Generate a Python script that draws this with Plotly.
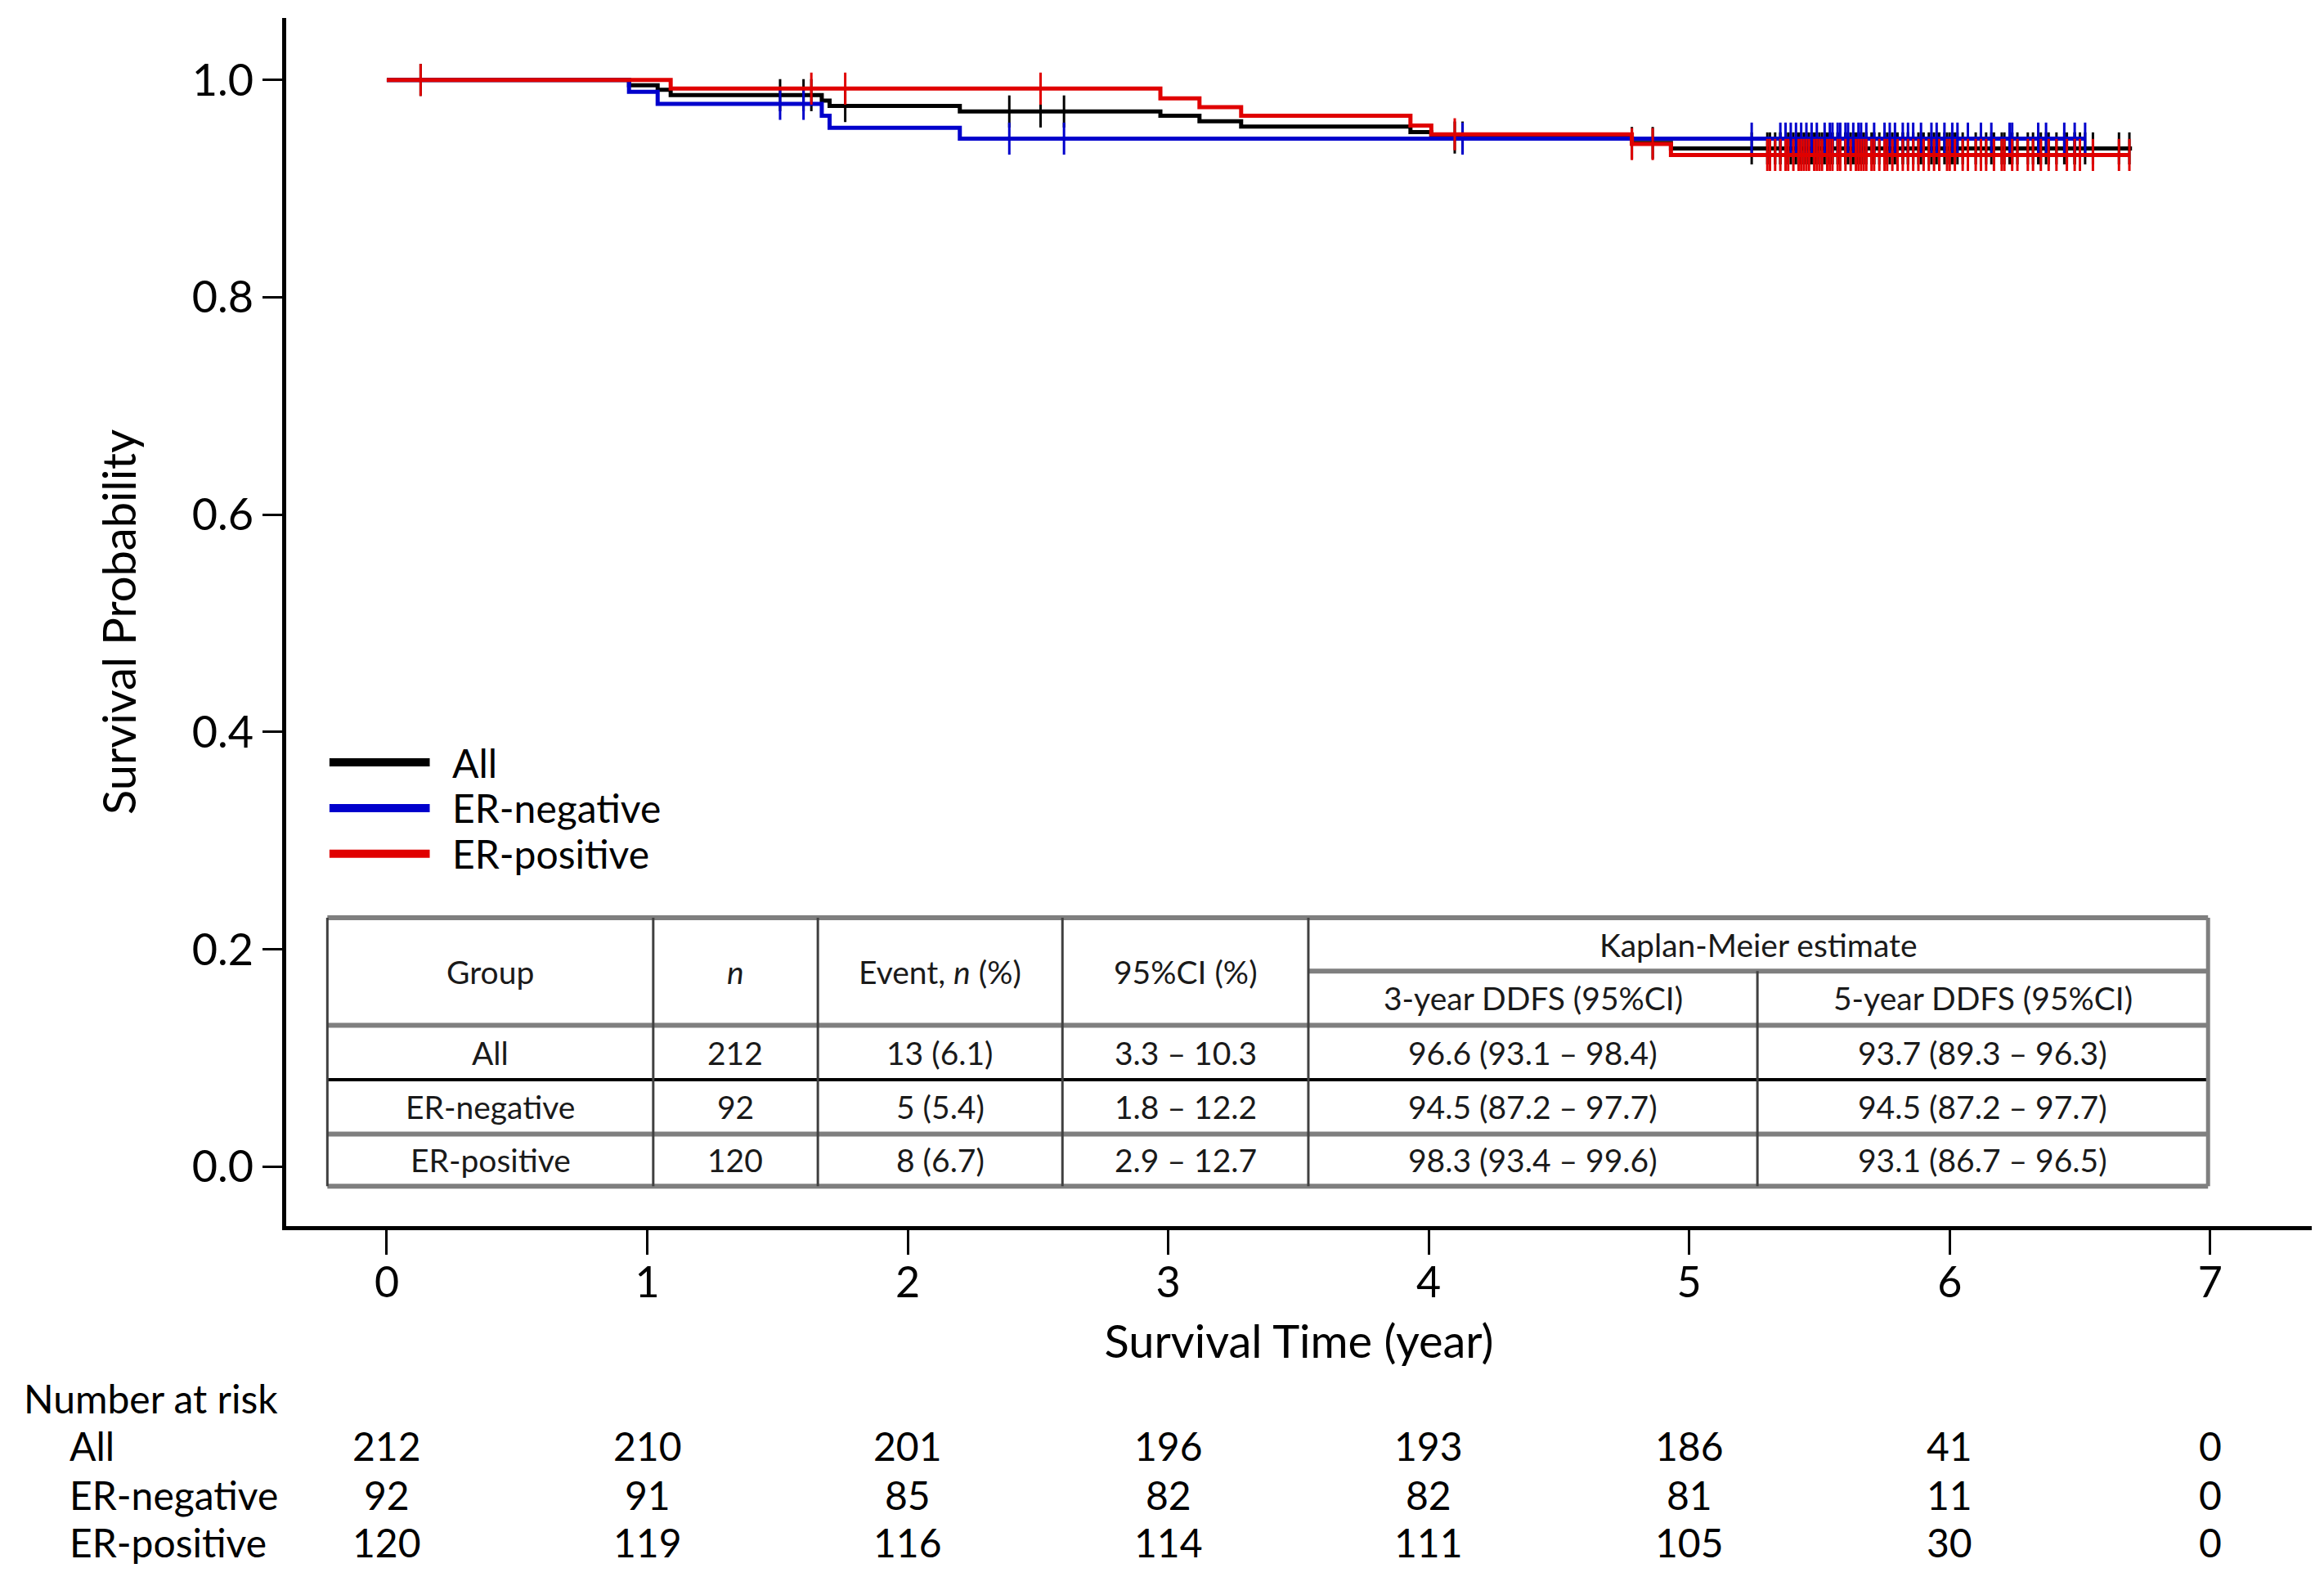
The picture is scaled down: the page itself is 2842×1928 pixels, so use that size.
import numpy as np
import plotly.graph_objects as go

# Kaplan-Meier steps (event times in years, survival after each step)
all_time = [0, 0.93, 1.04, 1.09, 1.67, 1.70, 2.20, 2.97, 3.12, 3.28, 3.93, 4.01, 4.78, 4.93]
all_surv = [1.0, 0.995, 0.991, 0.986, 0.981, 0.976, 0.971, 0.967, 0.962, 0.957, 0.952, 0.947, 0.942, 0.937]
all_end = 6.70

neg_time = [0, 0.93, 1.04, 1.67, 1.70, 2.20]
neg_surv = [1.0, 0.989, 0.978, 0.967, 0.956, 0.946]
neg_end = 6.52

pos_time = [0, 1.09, 2.97, 3.12, 3.28, 3.93, 4.01, 4.78, 4.93]
pos_surv = [1.0, 0.992, 0.983, 0.975, 0.967, 0.958, 0.950, 0.941, 0.931]
pos_end = 6.69

# censoring times (+ marks)
neg_cens = [1.51, 1.60, 2.39, 2.60, 4.13, 5.24, 5.35, 5.37, 5.39, 5.41, 5.43, 5.45, 5.47,
            5.49, 5.52, 5.54, 5.55, 5.57, 5.58, 5.60, 5.61, 5.63, 5.65, 5.66, 5.68, 5.71,
            5.75, 5.77, 5.79, 5.82, 5.84, 5.86, 5.89, 5.93, 5.95, 5.98, 6.01, 6.03, 6.07,
            6.12, 6.16, 6.23, 6.24, 6.34, 6.37, 6.44, 6.48, 6.52]
pos_cens = [0.13, 1.63, 1.76, 2.51, 4.10, 4.78, 4.86, 5.30, 5.31, 5.33, 5.35, 5.37, 5.38,
            5.40, 5.42, 5.43, 5.44, 5.45, 5.46, 5.48, 5.49, 5.50, 5.51, 5.53, 5.54, 5.55,
            5.57, 5.58, 5.60, 5.62, 5.64, 5.65, 5.66, 5.67, 5.68, 5.70, 5.71, 5.73, 5.75,
            5.76, 5.78, 5.80, 5.82, 5.84, 5.86, 5.88, 5.90, 5.92, 5.94, 5.96, 5.99, 6.00,
            6.02, 6.05, 6.07, 6.10, 6.12, 6.14, 6.17, 6.20, 6.21, 6.24, 6.26, 6.30, 6.32,
            6.35, 6.38, 6.41, 6.45, 6.48, 6.50, 6.55, 6.65, 6.69]
all_cens = sorted(neg_cens + pos_cens)

# number at risk
risk_times = [0, 1, 2, 3, 4, 5, 6, 7]
risk_all = [212, 210, 201, 196, 193, 186, 41, 0]
risk_neg = [92, 91, 85, 82, 82, 81, 11, 0]
risk_pos = [120, 119, 116, 114, 111, 105, 30, 0]

# summary table
groups = ["All", "ER-negative", "ER-positive"]
n_total = ["212", "92", "120"]
events = ["13 (6.1)", "5 (5.4)", "8 (6.7)"]
event_ci = ["3.3 – 10.3", "1.8 – 12.2", "2.9 – 12.7"]
ddfs3 = ["96.6 (93.1 – 98.4)", "94.5 (87.2 – 97.7)", "98.3 (93.4 – 99.6)"]
ddfs5 = ["93.7 (89.3 – 96.3)", "94.5 (87.2 – 97.7)", "93.1 (86.7 – 96.5)"]
head_cols = ["Group", "<i>n</i>", "Event, <i>n</i> (%)", "95%CI (%)"]
km_head = "Kaplan-Meier estimate"
km_sub = ["3-year DDFS (95%CI)", "5-year DDFS (95%CI)"]

FONT = "Lato"
BLACK, BLUE, RED = "#000000", "#0000cc", "#e00000"


def surv_at(times, surv, t):
    idx = np.searchsorted(times, t, side="right") - 1
    return np.array(surv)[idx]


fig = go.Figure()

series = [
    ("All", all_time, all_surv, all_end, all_cens, BLACK),
    ("ER-negative", neg_time, neg_surv, neg_end, neg_cens, BLUE),
    ("ER-positive", pos_time, pos_surv, pos_end, pos_cens, RED),
]
for name, t, s, end, cens, col in series:
    fig.add_trace(go.Scatter(x=t + [end], y=s + [s[-1]], mode="lines",
                             line=dict(color=col, width=5, shape="hv"),
                             name=name, showlegend=False))
    fig.add_trace(go.Scatter(x=cens, y=surv_at(t, s, cens), mode="markers",
                             marker=dict(symbol="line-ns", size=28,
                                         line=dict(color=col, width=3)),
                             showlegend=False, hoverinfo="skip"))

# legend drawn by hand
leg_y = [0.372, 0.330, 0.288]
for (name, _, _, _, _, col), yy in zip(series, leg_y):
    fig.add_shape(type="line", xref="x", yref="y", x0=-0.22, x1=0.165, y0=yy, y1=yy,
                  line=dict(color=col, width=10))
    fig.add_annotation(x=0.245, y=yy, xref="x", yref="y", text=name, showarrow=False,
                       xanchor="left", yanchor="middle",
                       font=dict(family=FONT, size=48, color="black"))

# summary table
col_x = [-0.228, 1.023, 1.655, 2.594, 3.538, 5.262, 6.992]
row_y = [0.229, 0.180, 0.130, 0.080, 0.030, -0.018]
GRAY, DGRAY = "#7f7f7f", "#404040"


def hline(x0, x1, y, color, w):
    fig.add_shape(type="line", xref="x", yref="y", x0=x0, x1=x1, y0=y, y1=y,
                  line=dict(color=color, width=w))


def vline(x, y0, y1, color, w):
    fig.add_shape(type="line", xref="x", yref="y", x0=x, x1=x, y0=y0, y1=y1,
                  line=dict(color=color, width=w))


hline(col_x[0], col_x[-1], row_y[0], GRAY, 6)
hline(col_x[4], col_x[-1], row_y[1], GRAY, 6)
hline(col_x[0], col_x[-1], row_y[2], GRAY, 6)
hline(col_x[0], col_x[-1], row_y[3], BLACK, 4)
hline(col_x[0], col_x[-1], row_y[4], GRAY, 6)
hline(col_x[0], col_x[-1], row_y[5], GRAY, 6)
for cx in col_x[:5]:
    vline(cx, row_y[-1], row_y[0], DGRAY, 3)
vline(col_x[5], row_y[-1], row_y[1], DGRAY, 3)
vline(col_x[6], row_y[-1], row_y[0], GRAY, 5)

tfont = dict(family=FONT, size=39, color="#1a1a1a")
head_mid = (row_y[0] + row_y[2]) / 2
for i, txt in enumerate(head_cols):
    fig.add_annotation(x=(col_x[i] + col_x[i + 1]) / 2, y=head_mid, xref="x", yref="y",
                       text=txt, showarrow=False, font=tfont)
fig.add_annotation(x=(col_x[4] + col_x[6]) / 2, y=(row_y[0] + row_y[1]) / 2, xref="x",
                   yref="y", text=km_head, showarrow=False, font=tfont)
for i, txt in enumerate(km_sub):
    fig.add_annotation(x=(col_x[4 + i] + col_x[5 + i]) / 2, y=(row_y[1] + row_y[2]) / 2,
                       xref="x", yref="y", text=txt, showarrow=False, font=tfont)
for r in range(3):
    cells = [groups[r], n_total[r], events[r], event_ci[r], ddfs3[r], ddfs5[r]]
    ym = (row_y[r + 2] + row_y[r + 3]) / 2
    for i, txt in enumerate(cells):
        fig.add_annotation(x=(col_x[i] + col_x[i + 1]) / 2, y=ym, xref="x", yref="y",
                           text=txt, showarrow=False, font=tfont)

# number at risk block under the axis
rfont = dict(family=FONT, size=48, color="black")
fig.add_annotation(x=-0.1304, y=-0.1422, xref="paper", yref="paper", text="Number at risk",
                   showarrow=False, xanchor="left", yanchor="middle", font=rfont)
risk_rows = [("All", risk_all, -0.1815), ("ER-negative", risk_neg, -0.2221),
             ("ER-positive", risk_pos, -0.2614)]
for label, vals, yp in risk_rows:
    fig.add_annotation(x=-0.1078, y=yp, xref="paper", yref="paper", text=label,
                       showarrow=False, xanchor="left", yanchor="middle", font=rfont)
    for tt, v in zip(risk_times, vals):
        fig.add_annotation(x=tt, y=yp, xref="x", yref="paper", text=str(v),
                           showarrow=False, xanchor="center", yanchor="middle", font=rfont)

fig.update_layout(
    width=2842, height=1928,
    margin=dict(l=350, r=15, t=22, b=429),
    plot_bgcolor="white", paper_bgcolor="white",
    font=dict(family=FONT, color="black"),
    showlegend=False,
)
fig.update_xaxes(range=[-0.386, 7.39], tickvals=risk_times, ticks="outside", ticklen=30,
                 tickwidth=3, tickcolor="black", showline=True, linewidth=5, linecolor="black",
                 showgrid=False, zeroline=False, tickfont=dict(family=FONT, size=52),
                 ticklabelstandoff=-10,
                 title=dict(text="Survival Time (year)", font=dict(family=FONT, size=56),
                            standoff=26))
fig.update_yaxes(range=[-0.0547, 1.057], tickvals=[0, 0.2, 0.4, 0.6, 0.8, 1.0],
                 tickformat=".1f", ticks="outside", ticklen=24, tickwidth=3,
                 tickcolor="black", showline=True, linewidth=5, linecolor="black",
                 showgrid=False, zeroline=False, tickfont=dict(family=FONT, size=54),
                 title=dict(text="Survival Probability", font=dict(family=FONT, size=56),
                            standoff=52))

fig.write_html("out.html", config={"displayModeBar": False},
               post_script="document.body.style.margin='0';")
